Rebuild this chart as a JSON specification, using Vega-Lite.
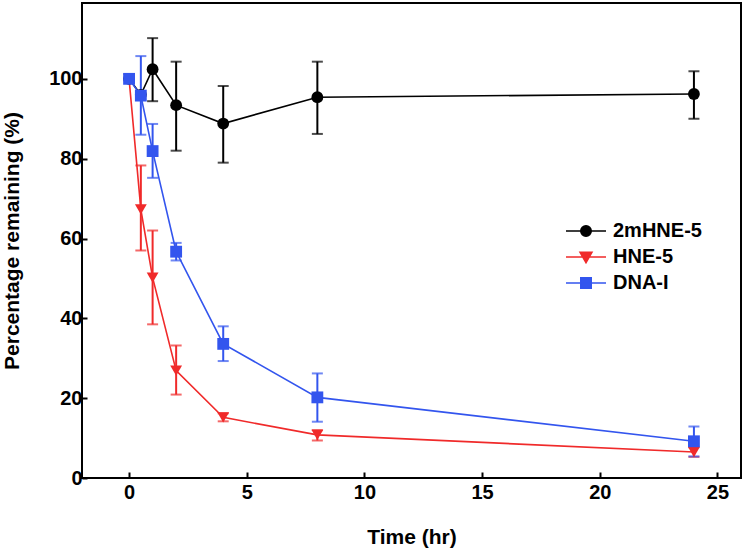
{
  "$schema": "https://vega.github.io/schema/vega-lite/v6.json",
  "width": 659,
  "height": 475,
  "autosize": {"type": "none"},
  "padding": {"left": 82, "top": 3, "right": 3, "bottom": 76},
  "background": "white",
  "config": {
    "font": "Liberation Sans",
    "view": {"stroke": "black", "strokeWidth": 2},
    "axis": {"grid": false, "domain": false, "tickColor": "black", "tickWidth": 2, "labelFont": "Liberation Sans", "labelFontWeight": "bold", "labelColor": "black", "titleFont": "Liberation Sans", "titleFontWeight": "bold", "titleColor": "black"}
  },
  "data": {"values": [
    {"s": "2mHNE-5", "t": 0, "v": 100, "lo": null, "hi": null},
    {"s": "2mHNE-5", "t": 0.5, "v": 96, "lo": null, "hi": null},
    {"s": "2mHNE-5", "t": 1, "v": 102.4, "lo": 94.4, "hi": 110.2},
    {"s": "2mHNE-5", "t": 2, "v": 93.4, "lo": 82, "hi": 104.3},
    {"s": "2mHNE-5", "t": 4, "v": 88.8, "lo": 79, "hi": 98.2},
    {"s": "2mHNE-5", "t": 8, "v": 95.4, "lo": 86.2, "hi": 104.3},
    {"s": "2mHNE-5", "t": 24, "v": 96.2, "lo": 90, "hi": 101.9},
    {"s": "HNE-5", "t": 0, "v": 100, "lo": null, "hi": null},
    {"s": "HNE-5", "t": 0.5, "v": 67.3, "lo": 57, "hi": 78.3},
    {"s": "HNE-5", "t": 1, "v": 50.2, "lo": 38.5, "hi": 62},
    {"s": "HNE-5", "t": 2, "v": 26.9, "lo": 20.9, "hi": 33.2},
    {"s": "HNE-5", "t": 4, "v": 15.2, "lo": 14.2, "hi": 16.2},
    {"s": "HNE-5", "t": 8, "v": 10.8, "lo": 9.4, "hi": 12},
    {"s": "HNE-5", "t": 24, "v": 6.5, "lo": 5.3, "hi": 7.7},
    {"s": "DNA-I", "t": 0, "v": 100, "lo": null, "hi": null},
    {"s": "DNA-I", "t": 0.5, "v": 95.8, "lo": 86, "hi": 105.7},
    {"s": "DNA-I", "t": 1, "v": 81.9, "lo": 75.2, "hi": 88.7},
    {"s": "DNA-I", "t": 2, "v": 56.7, "lo": 54.5, "hi": 58.9},
    {"s": "DNA-I", "t": 4, "v": 33.6, "lo": 29.3, "hi": 38},
    {"s": "DNA-I", "t": 8, "v": 20.2, "lo": 14.1, "hi": 26.2},
    {"s": "DNA-I", "t": 24, "v": 9.2, "lo": 5.4, "hi": 12.9}
  ]},
  "encoding": {
    "x": {"field": "t", "type": "quantitative", "scale": {"domain": [-2, 26], "nice": false, "zero": false},
      "axis": {"values": [0, 5, 10, 15, 20, 25], "title": "Time (hr)", "tickSize": -6, "labelPadding": 10, "labelFontSize": 20, "titleFontSize": 21, "titlePadding": 24}},
    "color": {"field": "s", "type": "nominal",
      "scale": {"domain": ["2mHNE-5", "HNE-5", "DNA-I"], "range": ["#000000", "#f02a2a", "#3355ee"]},
      "legend": {
        "orient": "none", "legendX": 494, "legendY": 218, "title": null, "padding": 0,
        "labelFontSize": 20, "labelFont": "Liberation Sans", "labelFontWeight": "bold", "labelColor": "black",
        "symbolSize": 100, "labelOffset": 17, "rowPadding": 6,
        "encode": {"symbols": {"update": {
          "shape": {"signal": "datum.value == '2mHNE-5' ? 'M-4,0H4M1.05,0A1.05,1.05,0,1,1,-1.05,0A1.05,1.05,0,1,1,1.05,0Z' : datum.value == 'HNE-5' ? 'M-4,0H4M-1.2,-0.95L1.2,-0.95L0,1.15Z' : 'M-4,0H4M-1.05,-1.05H1.05V1.05H-1.05Z'"},
          "fill": {"scale": "color", "field": "value"},
          "stroke": {"scale": "color", "field": "value"},
          "strokeWidth": {"value": 1.5},
          "opacity": {"value": 1},
          "fillOpacity": {"value": 1},
          "strokeOpacity": {"value": 1}
        }}}
      }}
  },
  "layer": [
    {"mark": {"type": "rule", "strokeWidth": 2},
     "encoding": {"y": {"field": "lo", "type": "quantitative"}, "y2": {"field": "hi"}}},
    {"mark": {"type": "tick", "orient": "horizontal", "size": 11, "thickness": 2},
     "encoding": {"y": {"field": "lo", "type": "quantitative"}}},
    {"mark": {"type": "tick", "orient": "horizontal", "size": 11, "thickness": 2},
     "encoding": {"y": {"field": "hi", "type": "quantitative"}}},
    {"mark": {"type": "line", "strokeWidth": 1.6},
     "encoding": {"y": {"field": "v", "type": "quantitative", "scale": {"domain": [0, 119], "nice": false},
       "axis": {"values": [0, 20, 40, 60, 80, 100], "title": "Percentage remaining (%)", "tickSize": -5, "labelPadding": 5, "labelFontSize": 20, "titleFontSize": 21, "titlePadding": 26}}}},
    {"transform": [{"filter": "datum.s == '2mHNE-5'"}],
     "mark": {"type": "point", "filled": true, "opacity": 1, "size": 140, "shape": "circle"},
     "encoding": {"y": {"field": "v", "type": "quantitative"}}},
    {"transform": [{"filter": "datum.s == 'HNE-5'"}],
     "mark": {"type": "point", "filled": true, "opacity": 1, "size": 140, "shape": "triangle-down"},
     "encoding": {"y": {"field": "v", "type": "quantitative"}}},
    {"transform": [{"filter": "datum.s == 'DNA-I'"}],
     "mark": {"type": "point", "filled": true, "opacity": 1, "size": 140, "shape": "square"},
     "encoding": {"y": {"field": "v", "type": "quantitative"}}}
  ]
}
